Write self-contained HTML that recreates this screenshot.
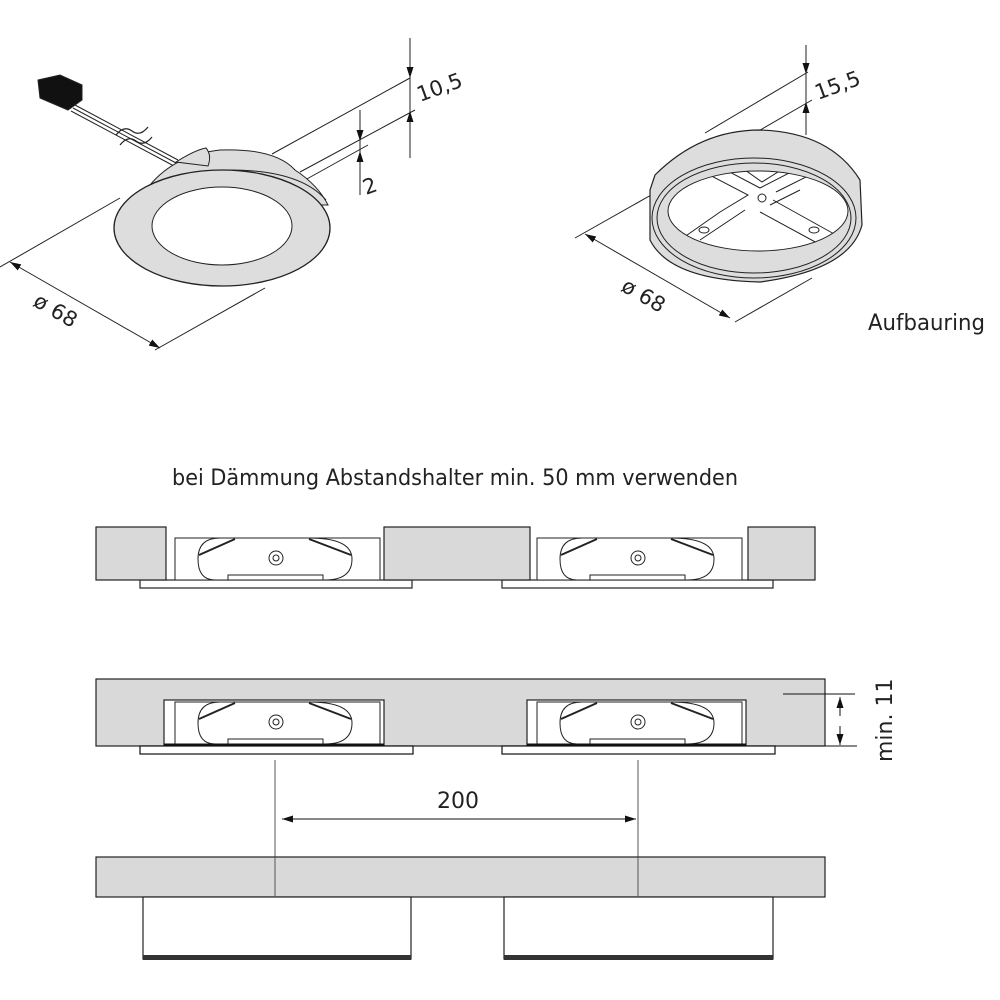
<!DOCTYPE html>
<html><head><meta charset="utf-8"><style>
html,body{margin:0;padding:0;background:#fff}
svg{display:block}
text{font-family:"DejaVu Sans","Liberation Sans",sans-serif;fill:#222}
</style></head><body>
<svg width="1000" height="1000" viewBox="0 0 1000 1000" xmlns="http://www.w3.org/2000/svg">
<defs>
<marker id="ar" viewBox="0 0 10 10" refX="10" refY="5" markerWidth="11" markerHeight="11" orient="auto-start-reverse" markerUnits="userSpaceOnUse"><path d="M0,1.8 L10,5 L0,8.2 z" fill="#111"/></marker>
<clipPath id="inner"><ellipse cx="758" cy="211" rx="90" ry="40"/></clipPath>
<g id="lum">
  <rect x="0" y="0" width="205" height="42" fill="#fff" stroke="#222" stroke-width="1"/>
  <path d="M45,0 L134,0 Q177,0 177,21 Q177,42 150,42 L40,42 Q23,42 23,21 Q23,0 45,0z" fill="#fff" stroke="#222" stroke-width="1"/>
  <line x1="24" y1="17" x2="60" y2="1" stroke="#222" stroke-width="2"/>
  <line x1="176" y1="17" x2="134" y2="1" stroke="#222" stroke-width="2"/>
  <rect x="53" y="37" width="95" height="5" fill="#fff" stroke="#222" stroke-width="1"/>
  <circle cx="101" cy="20" r="7" fill="#fff" stroke="#222"/>
  <circle cx="101" cy="20" r="3" fill="#fff" stroke="#222"/>
</g>
</defs>

<!-- Left isometric luminaire -->
<g stroke="#222" stroke-width="1" fill="none">
  <line x1="272" y1="154" x2="410" y2="78"/>
  <line x1="300" y1="172" x2="415" y2="110"/>
  <line x1="305" y1="180" x2="368" y2="145"/>
  <line x1="410" y1="38" x2="410" y2="158"/>
  <line x1="410" y1="40" x2="410" y2="78" marker-end="url(#ar)"/>
  <line x1="410" y1="125" x2="410" y2="111" marker-end="url(#ar)"/>
  <line x1="360" y1="110" x2="360" y2="195"/>
  <line x1="360" y1="112" x2="360" y2="141" marker-end="url(#ar)"/>
  <line x1="360" y1="170" x2="360" y2="151" marker-end="url(#ar)"/>
  <line x1="0" y1="267" x2="120" y2="198"/>
  <line x1="155" y1="350" x2="265" y2="288"/>
  <line x1="10" y1="262" x2="160" y2="348" marker-start="url(#ar)" marker-end="url(#ar)"/>
  <!-- cable -->
  <path d="M75,105 L178,160 M73,108 L176,163 M71,111 L174,166" />
  <path d="M38,80 L60,75 L82,85 L82,100 L68,110 L40,98 Z" fill="#111"/>
  <path d="M116,135 q8,-10 16,-4 t16,-4 M120,145 q8,-10 16,-4 t16,-4" stroke-width="1.2"/>
  <!-- housing -->
  <path d="M150,185 Q175,155 220,150 Q275,148 295,170 Q318,185 328,205 L150,205 Z" fill="#ddd"/>
  <path d="M176,162 Q195,150 206,148 Q212,155 208,166 Z" fill="#ddd"/>
  <path d="M128,205 Q170,172 230,170 Q300,170 326,200"/>
  <ellipse cx="222" cy="228" rx="108" ry="58" fill="#ddd" stroke-width="1.3"/>
  <ellipse cx="222" cy="226" rx="70" ry="39" fill="#fff"/>
</g>
<text x="0" y="0" font-size="21" transform="translate(420,102) rotate(-20)">10,5</text>
<text x="0" y="0" font-size="21" transform="translate(366,195) rotate(-20)">2</text>
<text x="0" y="0" font-size="21" transform="translate(32,305) rotate(30)">ø 68</text>

<!-- Right ring -->
<g stroke="#222" stroke-width="1" fill="none">
  <line x1="705" y1="133" x2="808" y2="72"/>
  <line x1="705" y1="162" x2="812" y2="100"/>
  <line x1="806" y1="45" x2="806" y2="135"/>
  <line x1="806" y1="46" x2="806" y2="74" marker-end="url(#ar)"/>
  <line x1="806" y1="118" x2="806" y2="102" marker-end="url(#ar)"/>
  <line x1="575" y1="238" x2="660" y2="190"/>
  <line x1="735" y1="322" x2="812" y2="278"/>
  <line x1="585" y1="234" x2="730" y2="318" marker-start="url(#ar)" marker-end="url(#ar)"/>
  <path d="M655,175 Q700,130 760,130 Q830,132 860,180 L862,225 Q850,270 760,282 Q670,280 650,240 L650,190 Z" fill="#ddd" stroke-width="1.2"/>
  <ellipse cx="754" cy="218" rx="102" ry="60" fill="#ddd"/>
  <ellipse cx="754" cy="218" rx="97" ry="55"/>
  <ellipse cx="758" cy="211" rx="90" ry="40" fill="#fff"/>
  <g clip-path="url(#inner)">
    <path d="M700,170 L748,195 L720,212 L680,240 M722,168 L760,188 L795,170 M773,200 L845,240 M745,210 L700,240 M776,192 L820,170 M760,212 L830,250 M770,205 L800,190"/>
    <path d="M745,170 L762,182 L778,172" />
  </g>
  <circle cx="762" cy="198" r="4"/>
  <ellipse cx="704" cy="230" rx="5" ry="3"/>
  <ellipse cx="814" cy="230" rx="5" ry="3"/>
</g>
<text x="0" y="0" font-size="21" transform="translate(818,100) rotate(-20)">15,5</text>
<text x="0" y="0" font-size="21" transform="translate(620,290) rotate(30)">ø 68</text>
<text x="868" y="330" font-size="22" textLength="117" lengthAdjust="spacingAndGlyphs">Aufbauring</text>

<text x="172" y="485" font-size="22" textLength="566" lengthAdjust="spacingAndGlyphs">bei Dämmung Abstandshalter min. 50 mm verwenden</text>

<!-- Row 1 -->
<g stroke="#222" stroke-width="1.2">
  <rect x="140" y="580" width="272" height="8" fill="#fff"/>
  <rect x="502" y="580" width="271" height="8" fill="#fff"/>
  <rect x="96" y="527" width="70" height="53" fill="#d9d9d9"/>
  <rect x="384" y="527" width="146" height="53" fill="#d9d9d9"/>
  <rect x="748" y="527" width="67" height="53" fill="#d9d9d9"/>
</g>
<use href="#lum" x="175" y="538"/>
<use href="#lum" x="537" y="538"/>

<!-- Row 2 -->
<g stroke="#222" stroke-width="1.2">
  <rect x="96" y="679" width="729" height="67" fill="#d9d9d9"/>
  <rect x="164" y="700" width="220" height="46" fill="#fff"/>
  <rect x="527" y="700" width="219" height="46" fill="#fff"/>
</g>
<use href="#lum" x="175" y="702"/>
<use href="#lum" x="537" y="702"/>
<g stroke="#111" stroke-width="1.2">
  <rect x="140" y="746" width="273" height="8" fill="#fff"/>
  <rect x="502" y="746" width="273" height="8" fill="#fff"/>
  <line x1="164" y1="745" x2="384" y2="745" stroke-width="3"/>
  <line x1="527" y1="745" x2="746" y2="745" stroke-width="3"/>
  <line x1="783" y1="694" x2="855" y2="694" stroke-width="1"/>
  <line x1="800" y1="746" x2="857" y2="746" stroke-width="1"/>
  <line x1="840" y1="716" x2="840" y2="697" marker-end="url(#ar)" stroke-width="1"/>
  <line x1="840" y1="726" x2="840" y2="745" marker-end="url(#ar)" stroke-width="1"/>
</g>
<text x="0" y="0" font-size="22" transform="translate(892,762) rotate(-90)">min. 11</text>

<!-- 200 dimension -->
<g stroke="#555" stroke-width="1">
  <line x1="275" y1="760" x2="275" y2="897"/>
  <line x1="638" y1="760" x2="638" y2="897"/>
  <line x1="282" y1="819" x2="636" y2="819" stroke="#111" marker-start="url(#ar)" marker-end="url(#ar)"/>
</g>
<text x="458" y="808" font-size="22" text-anchor="middle">200</text>

<!-- Row 3 -->
<g stroke="#222" stroke-width="1.2">
  <rect x="96" y="857" width="729" height="40" fill="#d9d9d9"/>
  <rect x="143" y="897" width="268" height="62" fill="#fff"/>
  <rect x="504" y="897" width="269" height="62" fill="#fff"/>
  <line x1="275" y1="857" x2="275" y2="897" stroke="#555" stroke-width="1"/>
  <line x1="638" y1="857" x2="638" y2="897" stroke="#555" stroke-width="1"/>
</g>
<rect x="143" y="955" width="268" height="5" fill="#333"/>
<rect x="504" y="955" width="269" height="5" fill="#333"/>
</svg>
</body></html>
